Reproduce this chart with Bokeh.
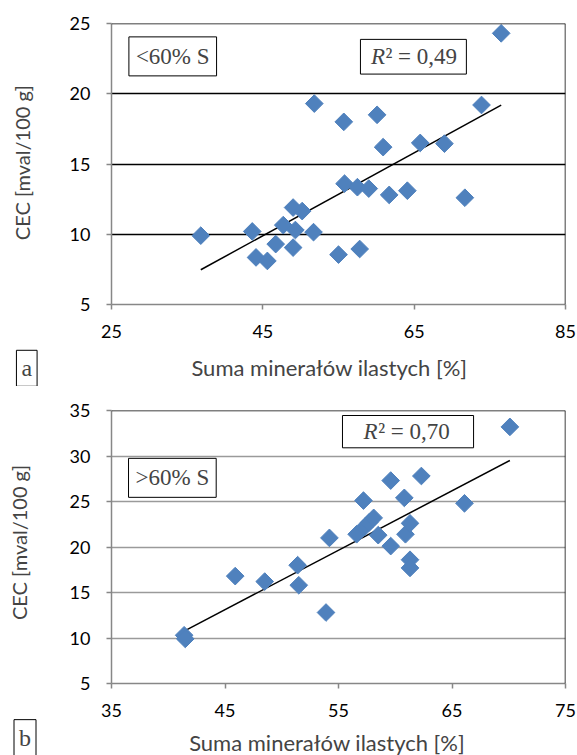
import numpy as np
from bokeh.plotting import figure
from bokeh.layouts import column
from bokeh.models import Label, Span, FixedTicker, Range1d, BoxAnnotation
from bokeh.embed import file_html
from bokeh.resources import INLINE

# ---- panel a: <60% S ----
a_clay = [36.8, 43.6, 44.1, 45.6, 46.7, 47.7, 49.0, 50.2, 49.3, 49.0, 51.7, 55.0, 57.8, 55.8,
          57.5, 59.0, 61.7, 64.1, 71.7, 51.8, 55.7, 60.1, 60.9, 65.8, 69.0, 73.9, 76.5]
a_cec = [9.9, 10.2, 8.35, 8.1, 9.3, 10.65, 11.9, 11.65, 10.3, 9.05, 10.15, 8.55, 8.95, 13.6,
         13.35, 13.25, 12.8, 13.1, 12.6, 19.3, 18.0, 18.5, 16.2, 16.5, 16.45, 19.2, 24.3]
a_group = "<60% S"
a_r2 = "0,49"
a_xticks = [25, 45, 65, 85]
a_yticks = [5, 10, 15, 20, 25]
a_letter = "a"

# ---- panel b: >60% S ----
b_clay = [41.4, 41.5, 45.9, 48.5, 51.4, 51.5, 53.9, 54.2, 56.6, 57.3, 57.7, 58.1, 58.5, 57.2,
          59.6, 59.6, 60.8, 60.9, 61.3, 61.3, 61.3, 62.3, 66.1, 70.1]
b_cec = [10.3, 9.9, 16.8, 16.2, 18.0, 15.8, 12.8, 21.0, 21.4, 22.2, 22.7, 23.2, 21.3, 25.1,
         27.3, 20.1, 25.4, 21.4, 22.6, 18.6, 17.7, 27.8, 24.8, 33.2]
b_group = ">60% S"
b_r2 = "0,70"
b_xticks = [35, 45, 55, 65, 75]
b_yticks = [5, 10, 15, 20, 25, 30, 35]
b_letter = "b"

x_title = "Suma minerałów ilastych [%]"
y_title = "CEC [mval/100 g]"

SANS = "Lato"
SERIF = "Liberation Serif"
BLUE = "#4F81BD"
AXIS_GREY = "#878787"


def panel(xs, ys, xticks, yticks, group, r2, letter, grid_color, height,
          b_left, b_top, b_bottom, group_box, r2_box, letter_pos, ytitle_pos, xtitle_pos):
    x0, x1 = xticks[0], xticks[-1]
    y0, y1 = yticks[0], yticks[-1]
    p = figure(width=577, height=height, output_backend="svg", toolbar_location=None,
               x_range=Range1d(x0, x1), y_range=Range1d(y0, y1),
               min_border_left=b_left, min_border_right=12, min_border_top=b_top,
               min_border_bottom=b_bottom)
    p.outline_line_color = None
    p.background_fill_color = "white"
    for ax, ticks in ((p.xaxis[0], xticks), (p.yaxis[0], yticks)):
        ax.ticker = FixedTicker(ticks=ticks)
        ax.axis_line_color = AXIS_GREY
        ax.axis_line_width = 1.5
        ax.major_tick_line_color = AXIS_GREY
        ax.major_tick_line_width = 1.5
        ax.major_tick_in = 0
        ax.major_tick_out = 5
        ax.minor_tick_line_color = None
        ax.major_label_text_font = SANS
        ax.major_label_text_font_size = "18px"
        ax.major_label_text_color = "black"
    p.xaxis.major_label_standoff = 15
    p.yaxis.major_label_standoff = 16
    p.xgrid.grid_line_color = None
    p.ygrid.ticker = FixedTicker(ticks=yticks[1:-1])
    p.ygrid.grid_line_color = grid_color
    p.ygrid.grid_line_width = 1.5

    # top and right border
    p.add_layout(Span(location=y1, dimension="width", line_color="black", line_width=1.5))
    p.add_layout(Span(location=x1, dimension="height", line_color="black", line_width=1.5))

    # linear trend line
    xa = np.array(xs, dtype=float)
    ya = np.array(ys, dtype=float)
    k, c = np.polyfit(xa, ya, 1)
    lx = np.array([xa.min(), xa.max()])
    p.line(lx, k * lx + c, line_color="black", line_width=1.5)

    p.scatter(xs, ys, marker="square", angle=np.pi / 4, size=12.5,
              fill_color=BLUE, line_color=BLUE, line_width=1)

    # group label box
    gx, gy = group_box
    p.add_layout(Label(x=gx, y=gy, text=group, text_font=SERIF, text_font_size="23px",
                       text_align="left", text_baseline="middle",
                       border_line_color="black", border_line_width=1,
                       background_fill_color="white", padding=7))
    # R^2 box
    bl, br, bt, bb, rx, rw = r2_box
    p.add_layout(BoxAnnotation(left=bl, right=br, top=bt, bottom=bb, fill_color="white",
                               fill_alpha=1, line_color="black", line_width=1, line_alpha=1))
    ym = (bt + bb) / 2
    p.add_layout(Label(x=rx, y=ym, text="R", text_font=SERIF, text_font_size="23px",
                       text_font_style="italic", text_align="left", text_baseline="middle"))
    p.add_layout(Label(x=rx + rw, y=ym, text="\u00b2 = " + r2, text_font=SERIF,
                       text_font_size="23px", text_align="left", text_baseline="middle"))
    # x axis title, as a label in the bottom side panel
    xtx, xty = xtitle_pos
    p.add_layout(Label(x=xtx, y=xty, text=x_title, text_font=SANS, text_font_size="22px",
                       text_align="center", text_baseline="middle"), "below")
    # y axis title, as a rotated label in the left side panel
    tx, ty = ytitle_pos
    p.add_layout(Label(x=tx, y=ty, text=y_title, angle=np.pi / 2,
                       text_font=SANS, text_font_size="20px",
                       text_align="center", text_baseline="middle"), "left")
    # panel letter: lives in the left side panel so it is not clipped to the frame
    lx_, ly_ = letter_pos
    p.add_layout(Label(x=lx_, y=ly_, text=letter,
                       text_font=SERIF, text_font_size="24px",
                       text_align="center", text_baseline="middle",
                       border_line_color="black", border_line_width=1,
                       background_fill_color="white", padding=5), "left")
    return p


pa = panel(a_clay, a_cec, a_xticks, a_yticks, a_group, a_r2, a_letter, "black", 386,
           107, 23, 82,
           group_box=(27.3, 22.66),
           r2_box=(57.9, 71.9, 23.87, 21.4, 59.3, 1.9),
           letter_pos=(13.80, 0.46),
           ytitle_pos=(13.15, 15.1),
           xtitle_pos=(53.8, 0.53))
pb = panel(b_clay, b_cec, b_xticks, b_yticks, b_group, b_r2, b_letter, "#9a9a9a", 369,
           111, 24, 72,
           group_box=(36.5, 27.6),
           r2_box=(55.35, 66.9, 34.45, 30.9, 57.2, 1.3),
           letter_pos=(27.38, -0.95),
           ytitle_pos=(26.89, 20.5),
           xtitle_pos=(54.0, -1.48))

layout = column(pa, pb, spacing=0)
open("out.html", "w").write(file_html(layout, INLINE))
